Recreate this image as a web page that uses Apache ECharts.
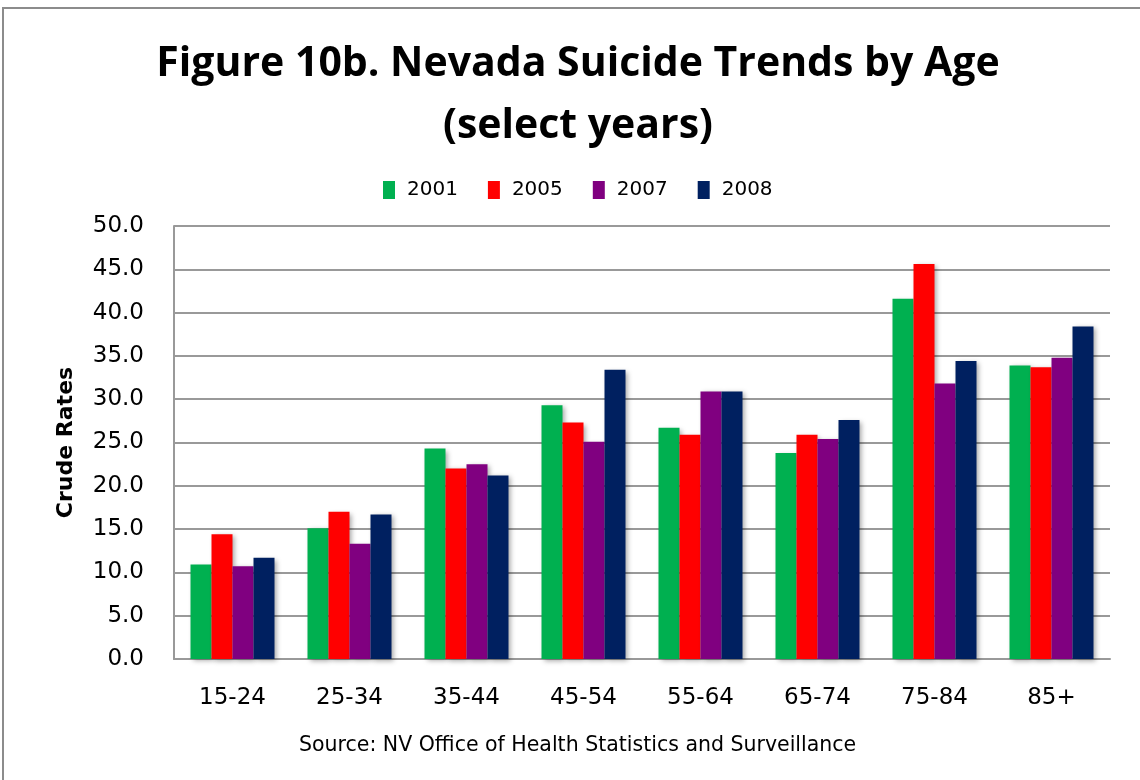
<!DOCTYPE html>
<html>
<head>
<meta charset="utf-8">
<script src="https://cdn.jsdelivr.net/npm/echarts@6/dist/echarts.min.js"></script>
<style>
  html, body { margin: 0; padding: 0; background: #fff; }
  #chart { width: 1140px; height: 780px; }
</style>
</head>
<body>
<div id="chart"></div>
<script>
const ageGroups = ["15-24", "25-34", "35-44", "45-54", "55-64", "65-74", "75-84", "85+"];
const years = ["2001", "2005", "2007", "2008"];
const rates2001 = [10.9, 15.1, 24.3, 29.3, 26.7, 23.8, 41.6, 33.9];
const rates2005 = [14.4, 17.0, 22.0, 27.3, 25.9, 25.9, 45.6, 33.7];
const rates2007 = [10.7, 13.3, 22.5, 25.1, 30.9, 25.4, 31.8, 34.8];
const rates2008 = [11.7, 16.7, 21.2, 33.4, 30.9, 27.6, 34.4, 38.4];
const colors = ["#00b050", "#ff0000", "#800080", "#002060"];

const seriesData = [rates2001, rates2005, rates2007, rates2008];
const titleFont = "Open Sans, DejaVu Sans, sans-serif";
const font = "DejaVu Sans, sans-serif";

const chart = echarts.init(document.getElementById("chart"));
chart.setOption({
  animation: false,
  title: {
    text: "Figure 10b. Nevada Suicide Trends by Age\n(select years)",
    left: 573,
    textAlign: "center",
    top: 28,
    textStyle: { fontFamily: titleFont, fontWeight: "bold", fontSize: 41, lineHeight: 62, color: "#000" },
  },
  graphic: [
    { type: "rect", shape: { x: 3, y: 8, width: 1200, height: 800 }, style: { fill: "none", stroke: "#8c8c8c", lineWidth: 2 } },
    {
      type: "text", left: 299, top: 735,
      style: { text: "Source: NV Office of Health Statistics and Surveillance", font: "20.5px " + font, fill: "#000" },
    },
  ],
  legend: {
    top: 175,
    left: 378,
    itemWidth: 12,
    itemHeight: 18,
    itemGap: 30,
    icon: "rect",
    textStyle: { fontFamily: font, fontSize: 20, color: "#000", padding: [0, 0, 0, 7] },
    data: years,
  },
  grid: { left: 174, right: 30, top: 226, bottom: 121 },
  xAxis: {
    type: "category",
    data: ageGroups,
    axisLine: { lineStyle: { color: "#999", width: 2 } },
    axisTick: { show: false },
    axisLabel: { fontFamily: font, fontSize: 23, color: "#000", margin: 28 },
  },
  yAxis: {
    type: "value",
    min: 0,
    max: 50,
    interval: 5,
    name: "Crude Rates",
    nameLocation: "middle",
    nameGap: 97,
    nameTextStyle: { fontFamily: font, fontWeight: "bold", fontSize: 22, color: "#000" },
    axisLine: { show: true, lineStyle: { color: "#999", width: 2 } },
    axisTick: { show: false },
    splitLine: { lineStyle: { color: "#999", width: 2 } },
    axisLabel: { fontFamily: font, fontSize: 23, color: "#000", margin: 30, formatter: v => v.toFixed(1) },
  },
  series: years.map((year, i) => ({
    name: year,
    type: "bar",
    data: seriesData[i],
    barWidth: 21,
    barGap: "0%",
    itemStyle: {
      color: colors[i],
      shadowBlur: 5,
      shadowColor: "rgba(0,0,0,0.35)",
      shadowOffsetX: 2,
      shadowOffsetY: 2,
    },
  })),
});
</script>
</body>
</html>
